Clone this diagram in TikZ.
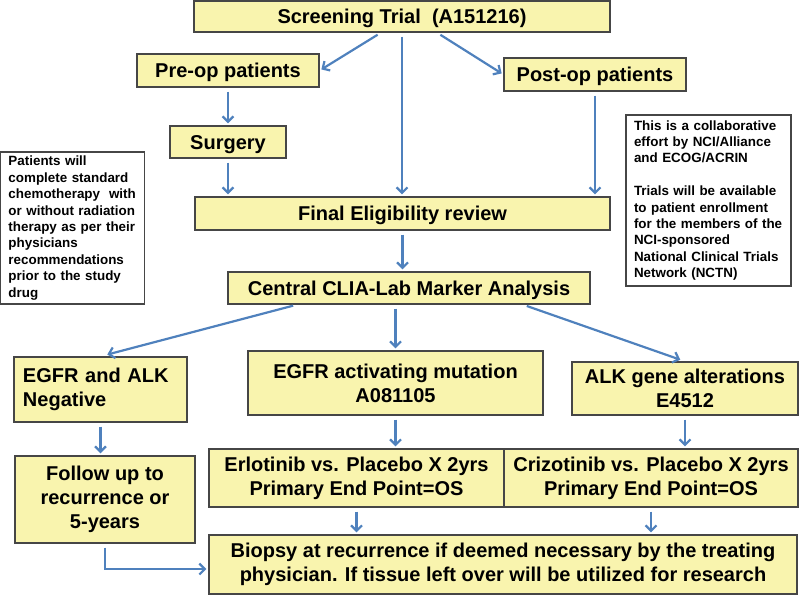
\documentclass[tikz,border=0pt]{standalone}
\usepackage{fontspec}
\setmainfont{Liberation Sans}
\usetikzlibrary{arrows.meta}

\definecolor{boxyellow}{RGB}{249,244,174}
\definecolor{boxline}{RGB}{70,70,70}
\definecolor{arrowblue}{RGB}{79,129,189}

\begin{document}
\begin{tikzpicture}[x=1pt,y=-1pt,
  trialbox/.style={draw=boxline,fill=boxyellow,line width=1.3pt,inner sep=0pt,align=center,
    font=\fontsize{20}{24}\selectfont\bfseries},
  oneline/.style={text height=14.3pt,text depth=0pt},
  notebox/.style={draw=boxline,fill=white,line width=1.1pt,inner xsep=8pt,inner ysep=0pt,align=left,
    font=\fontsize{13.4}{16.4}\selectfont\bfseries},
  flow/.style={arrowblue,line width=2.2pt,-{Straight Barb[length=5.5pt,width=11pt]},shorten <=4pt,shorten >=2pt}]
\useasboundingbox (0,0) rectangle (800,595);

\node[trialbox,oneline,minimum width=416pt,minimum height=31pt] (screen) at (402,16.5) {Screening Trial\ \ (A151216)};
\node[trialbox,oneline,minimum width=182pt,minimum height=33pt] (preop) at (228,70.5) {Pre-op patients};
\node[trialbox,oneline,minimum width=182pt,minimum height=33pt] (postop) at (595,74.5) {Post-op patients};
\node[trialbox,oneline,minimum width=116pt,minimum height=32pt] (surgery) at (228,142) {Surgery};
\node[trialbox,oneline,minimum width=415pt,minimum height=33pt] (final) at (402.5,213.5) {Final Eligibility review};
\node[trialbox,oneline,minimum width=362pt,minimum height=32pt] (central) at (409,288) {Central CLIA-Lab Marker Analysis};

\node[trialbox,minimum height=65pt,text width=155pt,inner xsep=9pt,align=left] (neg) at (100.5,389.5) {EGFR and ALK\\Negative};
\node[trialbox,minimum width=295pt,minimum height=64pt] (egfr) at (395.5,383) {EGFR activating mutation\\A081105};
\node[trialbox,minimum width=226pt,minimum height=53pt] (alk) at (685,388.5) {ALK gene alterations\\E4512};

\node[trialbox,minimum width=180pt,minimum height=87pt] (followup) at (105,499.5) {Follow up to\\recurrence or\\5-years};
\node[trialbox,minimum width=295pt,minimum height=58pt] (erlo) at (356.5,478) {Erlotinib vs. Placebo X 2yrs\\Primary End Point=OS};
\node[trialbox,minimum width=294pt,minimum height=58pt] (crizo) at (651,478) {Crizotinib vs. Placebo X 2yrs\\Primary End Point=OS};
\node[trialbox,minimum width=588pt,minimum height=59pt] (biopsy) at (503,564.5) {Biopsy at recurrence if deemed necessary by the treating\\physician. If tissue left over will be utilized for research};

\node[notebox,minimum height=152pt,text width=128pt] (notel) at (72.5,228) {Patients will\\complete standard\\chemotherapy\ \ with\\or without radiation\\therapy as per their\\physicians\\recommendations\\prior to the study\\drug};
\node[notebox,minimum height=171pt,text width=149pt] (noter) at (708.5,200.5) {This is a collaborative\\effort by NCI/Alliance\\and ECOG/ACRIN\\[16.4pt]Trials will be available\\to patient enrollment\\for the members of the\\NCI-sponsored\\National Clinical Trials\\Network (NCTN)};

\draw[flow] ([xshift=-21pt]screen.south) -- (preop.east);
\draw[flow] (screen.south) -- (screen.south |- final.north);
\draw[flow] ([xshift=35pt]screen.south) -- (postop.west);
\draw[flow] (preop.south) -- (surgery.north);
\draw[flow] (surgery.south) -- (surgery.south |- final.north);
\draw[flow] (postop.south) -- (postop.south |- final.north);
\draw[flow] (final.south) -- (final.south |- central.north);
\draw[flow,shorten >=7pt] ([xshift=-112pt]central.south) -- (neg.north);
\draw[flow] (egfr.north |- central.south) -- (egfr.north);
\draw[flow,shorten >=5pt] ([xshift=114pt]central.south) -- (alk.north);
\draw[flow] (neg.south) -- (neg.south |- followup.north);
\draw[flow] (egfr.south) -- (egfr.south |- erlo.north);
\draw[flow] (alk.south) -- (alk.south |- crizo.north);
\draw[flow] (erlo.south) -- (erlo.south |- biopsy.north);
\draw[flow] (crizo.south) -- (crizo.south |- biopsy.north);
\draw[flow] (followup.south) |- ([yshift=-4.5pt]biopsy.west);

\end{tikzpicture}
\end{document}
